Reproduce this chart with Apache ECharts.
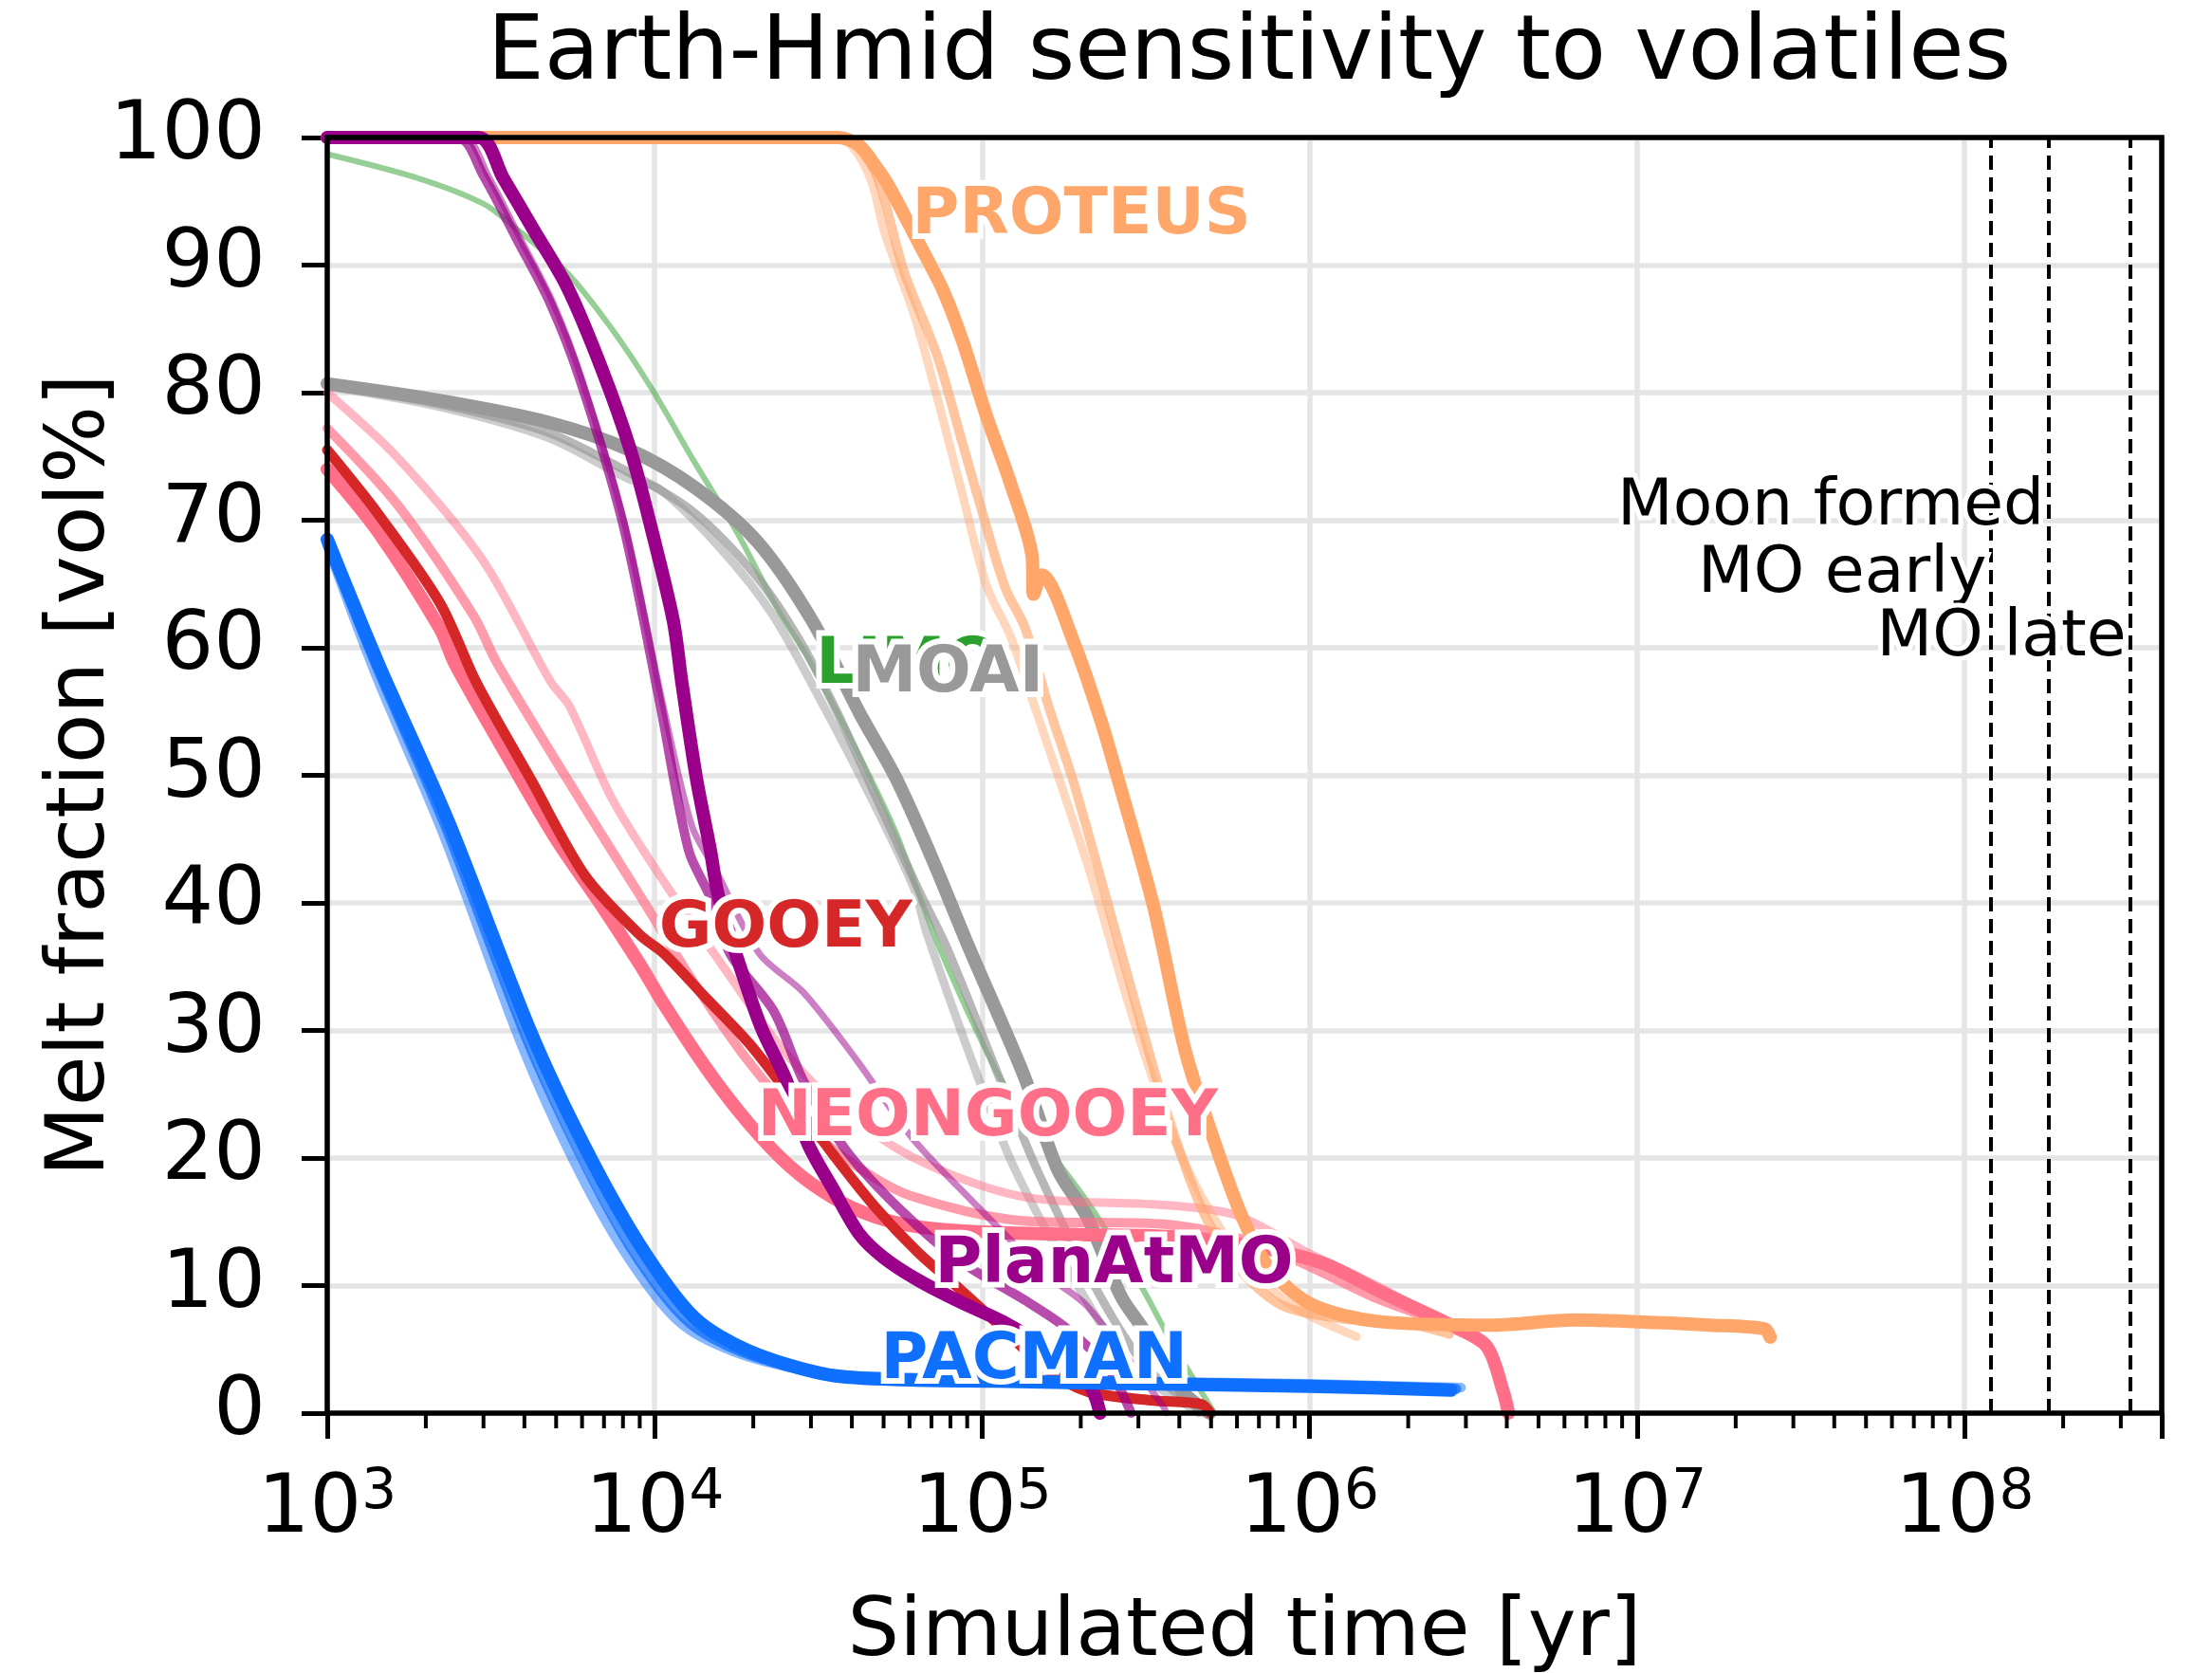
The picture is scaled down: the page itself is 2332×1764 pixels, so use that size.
<!DOCTYPE html>
<html>
<head>
<meta charset="utf-8">
<title>Earth-Hmid sensitivity to volatiles</title>
<script src="https://cdn.jsdelivr.net/npm/echarts@6/dist/echarts.min.js"></script>
<style>
html, body { margin: 0; padding: 0; background: #fff; }
#chart { width: 2332px; height: 1764px; }
</style>
</head>
<body>
<div id="chart"></div>
<script>
// melt fraction [vol%] against simulated time [yr]

// PACMAN
var pacmanA = [[1000,68.5],[1430,58.8],[2350,46.3],[4180,29.9],[6140,20.8],[9000,13.2],[13200,7.5],[19300,4.9],[34000,3.0],[61000,2.6],[110000,2.5],[300000,2.3],[1000000,2.1],[2700000,1.8]];
var pacmanB = [[1000,68.2],[1420,58.5],[2300,46.0],[4050,29.5],[5900,20.4],[8500,12.9],[12500,7.3],[18500,4.8],[33000,3.1],[60000,2.7],[110000,2.6],[300000,2.4],[1000000,2.2],[2800000,1.9]];
var pacmanC = [[1000,68.0],[1400,58.0],[2250,45.5],[3900,29.0],[5600,20.0],[8100,12.6],[11800,7.2],[17500,4.8],[31000,3.2],[60000,2.8],[110000,2.7],[300000,2.5],[1000000,2.3],[2900000,2.0]];

// NEONGOOEY
var neonA = [[1000,74.0],[1420,69.2],[2210,61.5],[2450,58.8],[3550,51.5],[5000,45.0],[6800,40.0],[9000,35.2],[10700,32.0],[14400,27.0],[19400,22.7],[26000,19.3],[35000,16.9],[47000,15.4],[64000,14.6],[100000,14.2],[200000,14.0],[400000,13.8],[700000,13.0],[1110000,11.7],[1680000,9.4],[2800000,6.7],[3480000,5.2],[3900000,1.7],[4050000,0]];
var neonB = [[1000,77.2],[1640,71.2],[2800,62.5],[3300,58.8],[6140,47.4],[9000,40.6],[13200,33.7],[19300,27.6],[28400,22.7],[41600,19.3],[61000,17.0],[131000,15.1],[366000,14.8],[650000,13.5],[1000000,11.5],[1600000,9.0],[2500000,7.2],[3000000,6.6]];
var neonC = [[1000,80.0],[1640,74.9],[2980,66.9],[4820,57.3],[5470,55.5],[7430,48.1],[10900,41.3],[16000,35.2],[23400,29.2],[34400,24.6],[61000,20.1],[131000,17.0],[366000,16.3],[600000,15.5],[1000000,12.5],[1600000,10.0],[2400000,7.6],[2900000,6.8]];

// GOOEY
var gooey = [[1000,75.5],[1420,70.6],[2210,63.5],[2850,57.3],[4180,49.7],[6140,42.1],[9000,37.5],[10700,36.0],[14400,32.5],[19400,29.0],[26000,24.8],[35000,20.3],[47300,16.1],[63700,12.6],[85700,9.7],[115000,6.7],[156000,3.5],[209000,1.7],[327000,1.0],[468000,0.7],[497000,0]];

// PlanAtMO
var planA = [[1000,100],[2900,100],[3450,96.8],[4260,92.8],[5400,88.3],[6860,82.0],[8430,75.5],[9800,69.2],[11400,62.1],[12100,57.3],[13400,49.8],[14800,44.1],[15600,40.7],[17700,36.0],[21100,30.3],[25300,26.0],[29400,21.1],[35000,17.6],[42000,14.1],[50000,12.2],[64000,10.4],[86000,8.7],[115000,7.2],[160000,5.0],[205000,3.0],[222000,1.2],[229000,0]];
var planB = [[1000,100],[2500,100],[3000,97.0],[3800,92.0],[4800,87.0],[5900,81.1],[8000,69.7],[10400,55.5],[12700,44.1],[14800,40.4],[17000,36.0],[23100,31.5],[28500,26.0],[38400,20.6],[56500,15.9],[85700,11.9],[134000,8.9],[180000,6.7],[243000,3.5],[285000,0]];
var planC = [[1000,100],[2600,100],[3100,97.0],[3900,92.0],[4900,87.0],[6000,81.0],[8100,69.7],[10600,55.5],[13000,46.0],[15400,42.5],[20900,36.0],[28400,33.0],[41600,27.6],[61000,21.6],[91000,16.9],[156000,10.9],[209000,8.4],[358000,0.5],[365000,0]];

// green model
var greenA = [[1000,98.7],[1900,96.8],[3000,94.8],[3800,92.8],[5400,89.4],[7300,85.2],[9800,80.3],[13200,74.6],[17700,69.2],[23900,62.9],[29400,59.2],[42200,51.5],[54500,45.5],[74000,36.5],[115000,26.0],[155000,21.1],[209000,16.6],[299000,10.4],[380000,5.5],[512000,0]];

// MOAI
var moaiA = [[1000,80.7],[2200,79.4],[4700,77.7],[8400,75.5],[13200,72.6],[20600,68.3],[30300,62.1],[42200,54.9],[54500,49.8],[70300,43.5],[90800,36.6],[134000,26.5],[170000,19.1],[209000,15.4],[265000,9.2],[308000,6.7],[409000,1.7],[495000,0]];
var moaiB = [[1000,80.6],[2200,79.1],[4700,76.9],[8400,73.7],[13200,70.6],[20600,65.5],[27700,60.6],[36000,55.0],[48000,48.0],[64000,41.0],[78000,36.5],[112000,26.5],[147000,19.1],[229000,9.2],[320000,3.5],[460000,0.3],[480000,0]];
var moaiC = [[1000,80.5],[2200,78.9],[4700,76.5],[8400,73.2],[10400,72.4],[16000,67.7],[22900,62.6],[32700,55.5],[45500,48.4],[61800,41.2],[68000,37.5],[96600,26.5],[126000,19.1],[204000,9.2],[290000,3.5],[440000,0.3],[460000,0]];

// PROTEUS
var proteusA = [[1000,100],[36300,100],[42000,99.4],[47400,97.7],[52100,96.1],[63800,91.8],[75700,88.1],[86700,84.2],[103000,78.2],[122000,72.9],[142000,67.2],[143500,64.2],[152000,65.7],[192000,60.2],[233000,53.9],[256000,50.3],[334000,39.7],[418000,28.3],[521000,20.7],[624000,15.3],[760000,11.2],[1016000,8.5],[1600000,7.2],[3620000,6.9],[6430000,7.3],[11400000,7.1],[16700000,6.9],[24500000,6.6],[25500000,5.95]];
var proteusB = [[1000,100],[36300,100],[42000,99.2],[48000,96.8],[57700,89.5],[73100,82.8],[86700,76.2],[103000,69.5],[118000,64.6],[135000,61.6],[160000,55.3],[192000,49.1],[268000,35.8],[357000,24.5],[467000,16.1],[596000,11.6],[815000,8.5],[1260000,7.4],[2000000,7.0],[2670000,6.2]];
var proteusC = [[1000,100],[36300,100],[41000,99.0],[46000,96.5],[50400,92.5],[61800,86.2],[73100,79.5],[86700,72.2],[103000,64.9],[122000,60.9],[145000,55.3],[214000,42.3],[286000,31.3],[382000,21.8],[499000,15.7],[650000,11.5],[900000,8.3],[1390000,6.0]];

// model name labels
var labelText = ['PROTEUS', 'LIMO', 'MOAI', 'GOOEY', 'NEONGOOEY', 'PlanAtMO', 'PACMAN'];
var labelTime = [201000, 59400, 78500, 25100, 104000, 253000, 144000];
var labelMelt = [93.8, 58.6, 57.9, 37.9, 23.1, 11.55, 4.1];

// vertical reference times and their notes
var eventTime = [180000000, 120000000, 320000000];
var eventText = ['Moon formed', 'MO early', 'MO late'];
var eventMelt = [71.0, 65.7, 60.7];

// minor ticks of the log axis
var minorTicks = [2e3,3e3,4e3,5e3,6e3,7e3,8e3,9e3, 2e4,3e4,4e4,5e4,6e4,7e4,8e4,9e4, 2e5,3e5,4e5,5e5,6e5,7e5,8e5,9e5,
                  2e6,3e6,4e6,5e6,6e6,7e6,8e6,9e6, 2e7,3e7,4e7,5e7,6e7,7e7,8e7,9e7, 2e8,3e8];

var FONT = 'DejaVu Sans';
var C_PACMAN = '#0f6fff';
var C_NEON = '#ff7088';
var C_GOOEY = '#d62728';
var C_PLAN = '#9a0089';
var C_GREEN = '#2ca02c';
var C_MOAI = '#999999';
var C_PROTEUS = '#ffa66a';
var labelColors = [C_PROTEUS, C_GREEN, C_MOAI, C_GOOEY, C_NEON, C_PLAN, C_PACMAN];

function curve(data, color, opacity, width) {
    return {
        type: 'line',
        data: data,
        showSymbol: false,
        silent: true,
        smooth: 0.3,
        z: 2,
        lineStyle: { color: color, opacity: opacity, width: width, cap: 'round', join: 'round' }
    };
}

// drawing order follows the reference: purple sits over orange, blue on top
var series = [
    curve(greenA, C_GREEN, 0.5, 6),
    curve(moaiC, C_MOAI, 0.5, 9),
    curve(moaiB, C_MOAI, 0.7, 9),
    curve(moaiA, C_MOAI, 1, 14),
    curve(neonC, C_NEON, 0.5, 9),
    curve(neonB, C_NEON, 0.7, 10),
    curve(neonA, C_NEON, 1, 14),
    curve(gooey, C_GOOEY, 1, 11),
    curve(proteusC, C_PROTEUS, 0.45, 9),
    curve(proteusB, C_PROTEUS, 0.65, 10),
    curve(proteusA, C_PROTEUS, 1, 14),
    curve(planC, C_PLAN, 0.5, 7),
    curve(planB, C_PLAN, 0.7, 10),
    curve(planA, C_PLAN, 1, 14),
    curve(pacmanC, C_PACMAN, 0.5, 10),
    curve(pacmanB, C_PACMAN, 0.75, 11),
    curve(pacmanA, C_PACMAN, 1, 14)
];

// minor ticks below the x axis
series.push({
    type: 'custom',
    silent: true,
    clip: false,
    z: 10,
    data: minorTicks.map(function (t) { return [t, 0]; }),
    renderItem: function (params, api) {
        var p = api.coord([api.value(0), 0]);
        return {
            type: 'line',
            shape: { x1: p[0], y1: p[1], x2: p[0], y2: p[1] + 16 },
            style: { stroke: '#000', lineWidth: 4 }
        };
    }
});

// dashed event lines and their notes
series.push({
    type: 'scatter',
    silent: true,
    symbolSize: 0.1,
    itemStyle: { color: '#000', opacity: 1 },
    z: 5,
    data: eventTime.map(function (t, i) {
        return {
            value: [t, eventMelt[i]],
            label: {
                show: true, position: 'left', distance: 4,
                formatter: eventText[i],
                fontFamily: FONT, fontSize: 68, color: '#000', opacity: 1,
                textBorderColor: '#fff', textBorderWidth: 10
            }
        };
    }),
    markLine: {
        silent: true,
        symbol: ['none', 'none'],
        label: { show: false },
        lineStyle: { color: '#000', width: 4, type: [15, 8], opacity: 1 },
        data: eventTime.map(function (t) { return { xAxis: t }; })
    }
});

// model labels
series.push({
    type: 'scatter',
    silent: true,
    symbolSize: 0.1,
    z: 6,
    data: labelText.map(function (txt, i) {
        return {
            value: [labelTime[i], labelMelt[i]],
            itemStyle: { color: labelColors[i], opacity: 1 },
            label: {
                show: true, position: 'inside',
                formatter: txt,
                fontFamily: FONT, fontWeight: 'bold', fontSize: 68,
                color: labelColors[i], opacity: 1,
                textBorderColor: '#fff', textBorderWidth: 12
            }
        };
    })
});

var chart = echarts.init(document.getElementById('chart'), null, { renderer: 'canvas' });
var option = {
    animation: false,
    backgroundColor: '#fff',
    title: {
        text: 'Earth-Hmid sensitivity to volatiles',
        left: 1312,
        top: 6,
        textAlign: 'center',
        textStyle: { fontFamily: FONT, fontSize: 95, fontWeight: 'normal', color: '#000' }
    },
    grid: {
        left: 345, right: 53, top: 145, bottom: 274,
        containLabel: false,
        outerBoundsMode: 'none',
        show: true, z: 4, borderColor: '#000', borderWidth: 5.5, backgroundColor: 'transparent'
    },
    xAxis: {
        type: 'log',
        logBase: 10,
        min: 1000,
        max: 400000000,
        name: 'Simulated time [yr]',
        nameLocation: 'middle',
        nameGap: 190,
        nameMoveOverlap: false,
        nameTextStyle: { fontFamily: FONT, fontSize: 86, color: '#000' },
        axisLine: { show: false, onZero: false },
        axisTick: { show: true, inside: false, length: 27, lineStyle: { color: '#000', width: 5 } },
        minorTick: { show: false },
        splitLine: { show: true, lineStyle: { color: '#e5e5e5', width: 5.5 } },
        axisLabel: {
            margin: 56,
            color: '#000',
            formatter: function (v) {
                var p = Math.log10(v);
                if (Math.abs(p - Math.round(p)) > 1e-6) return '';
                return '{b|10}{s|' + Math.round(p) + '}';
            },
            rich: {
                b: { fontFamily: FONT, fontSize: 86, color: '#000', verticalAlign: 'bottom' },
                s: { fontFamily: FONT, fontSize: 58, color: '#000', verticalAlign: 'bottom', padding: [0, 0, 32, 0] }
            }
        }
    },
    yAxis: {
        type: 'value',
        min: 0,
        max: 100,
        interval: 10,
        name: 'Melt fraction [vol%]',
        nameLocation: 'middle',
        nameGap: 215,
        nameMoveOverlap: false,
        nameTextStyle: { fontFamily: FONT, fontSize: 86, color: '#000' },
        axisLine: { show: false },
        axisTick: { show: true, inside: false, length: 27, lineStyle: { color: '#000', width: 5 } },
        splitLine: { show: true, lineStyle: { color: '#e5e5e5', width: 5.5 } },
        axisLabel: { margin: 65, fontFamily: FONT, fontSize: 86, color: '#000' }
    },
    series: series
};

chart.setOption(option);
</script>
</body>
</html>
